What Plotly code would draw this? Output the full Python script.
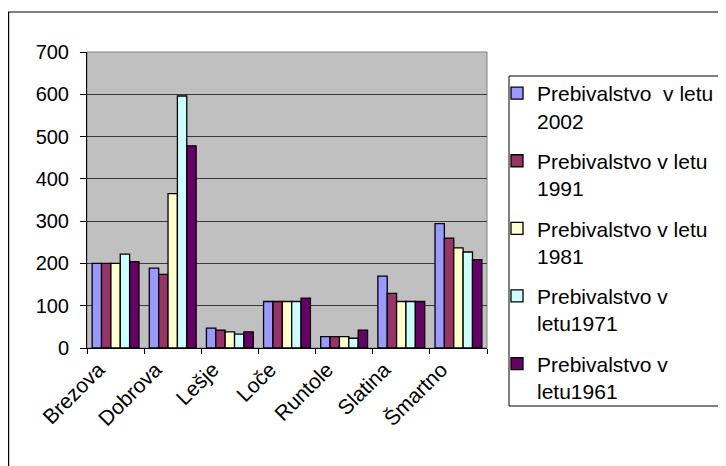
import plotly.graph_objects as go

categories = ["Brezova", "Dobrova", "Lešje", "Loče", "Runtole", "Slatina", "Šmartno"]
pop_2002 = [200, 189, 47, 110, 27, 170, 294]
pop_1991 = [200, 174, 42, 110, 27, 129, 260]
pop_1981 = [200, 365, 38, 110, 27, 110, 237]
pop_1971 = [222, 596, 33, 110, 23, 110, 227]
pop_1961 = [204, 478, 38, 118, 42, 110, 209]

series_names = [
    "Prebivalstvo\u00a0 v letu<br>2002",
    "Prebivalstvo v letu<br>1991",
    "Prebivalstvo v letu<br>1981",
    "Prebivalstvo v<br>letu1971",
    "Prebivalstvo v<br>letu1961",
]
series_values = [pop_2002, pop_1991, pop_1981, pop_1971, pop_1961]
colors = ["#9999FF", "#993366", "#FFFFCC", "#CCFFFF", "#660066"]

FONT = "Arial, Liberation Sans, sans-serif"

fig = go.Figure()
for i, (name, vals, col) in enumerate(zip(series_names, series_values, colors)):
    fig.add_trace(go.Bar(
        x=categories, y=vals, name=name, legendgroup=f"g{i}",
        marker=dict(color=col, line=dict(color="black", width=1.3)),
    ))

OFF = 8  # page body offset
W, H = 726, 466
L, T = 79, 44
pw, ph = 400, 296
R = W - L - pw
B = H - T - ph

def px(xs):
    return (xs - OFF - L) / pw

def py(ys):
    return (T + ph - (ys - OFF)) / ph

fig.update_layout(
    width=W, height=H,
    margin=dict(l=L, r=R, t=T, b=B, pad=0),
    paper_bgcolor="white",
    plot_bgcolor="#C0C0C0",
    barmode="group",
    bargap=0.18,
    bargroupgap=0,
    font=dict(family=FONT, size=20, color="black"),
    showlegend=True,
    legend=dict(
        x=px(497), y=py(73), xanchor="left", yanchor="top",
        bgcolor="rgba(0,0,0,0)", borderwidth=0,
        font=dict(family=FONT, size=21, color="black"),
        tracegroupgap=10, valign="top", maxheight=600,
    ),
    xaxis=dict(
        type="category",
        tickangle=-45,
        tickson="boundaries",
        ticks="outside", ticklen=5, tickcolor="black", tickwidth=1,
        ticklabelshift=-17,
        showline=True, linecolor="black", linewidth=1,
        showgrid=False, automargin=False,
        tickfont=dict(family=FONT, size=21, color="black"),
    ),
    yaxis=dict(
        range=[0, 700], dtick=100, tick0=0,
        ticks="outside", ticklen=6, tickcolor="black", tickwidth=1,
        ticklabelstandoff=7,
        showline=True, linecolor="black", linewidth=1,
        showgrid=True, gridcolor="#3a3a3a", gridwidth=1,
        zeroline=False, automargin=False,
        tickfont=dict(family=FONT, size=20, color="black"),
    ),
    shapes=[
        dict(type="rect", xref="paper", yref="paper",
             x0=0, x1=1, y0=0, y1=1,
             line=dict(color="#808080", width=1), layer="below"),
        dict(type="rect", xref="paper", yref="paper",
             x0=px(8.6), x1=px(760), y0=py(500), y1=py(12),
             line=dict(color="black", width=1.2), fillcolor="rgba(0,0,0,0)"),
        dict(type="rect", xref="paper", yref="paper",
             x0=px(509), x1=px(725), y0=py(406), y1=py(76),
             line=dict(color="black", width=1), fillcolor="white",
             layer="above"),
    ],
)

fig.write_html("out.html")
